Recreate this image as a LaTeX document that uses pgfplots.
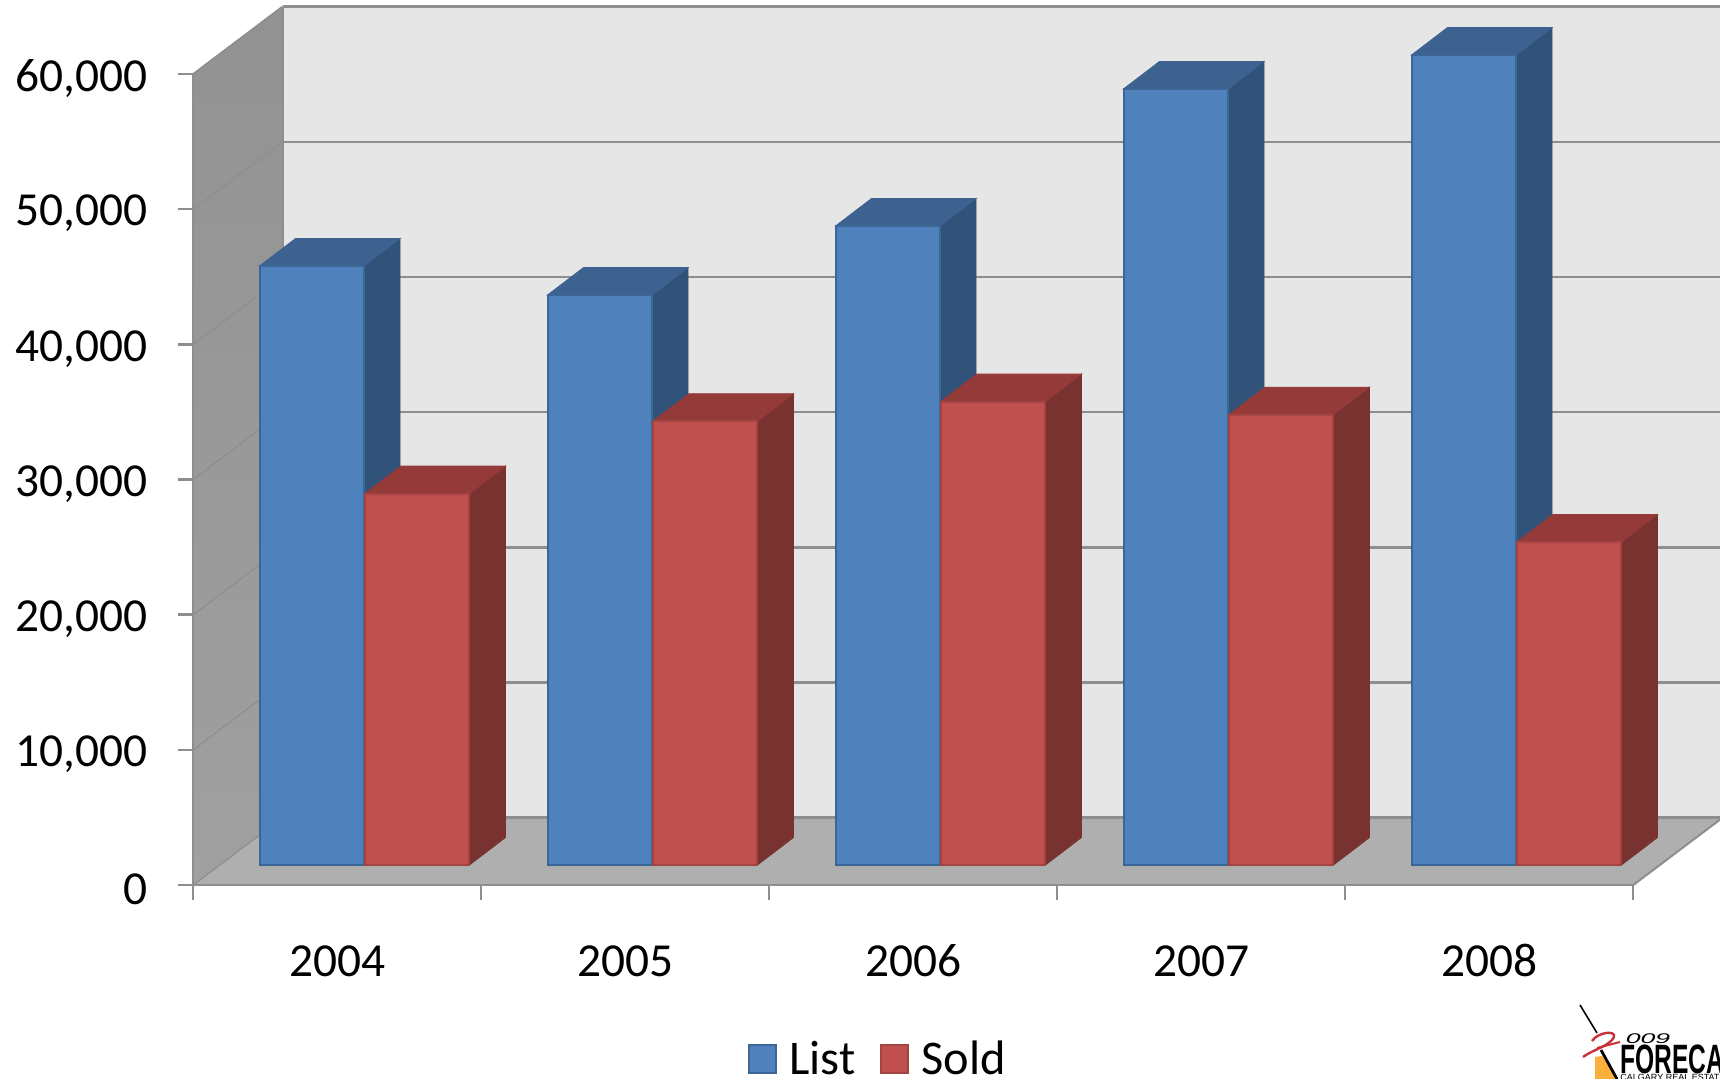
\documentclass[border=0pt]{standalone}
\usepackage{pgfplots}
\pgfplotsset{compat=1.18}
\usepackage{fontspec}
\setmainfont{Carlito}
\newfontfamily\logofont{Liberation Sans}

\definecolor{wallback}{HTML}{E6E6E6}
\definecolor{walltop}{HTML}{929292}
\definecolor{wallbot}{HTML}{A0A0A0}
\definecolor{floorc}{HTML}{AFAFAF}
\definecolor{gridc}{HTML}{8E8E8E}
\definecolor{listf}{HTML}{4F81BD}
\definecolor{listt}{HTML}{3D6290}
\definecolor{lists}{HTML}{315279}
\definecolor{liste}{HTML}{3C6695}
\definecolor{soldf}{HTML}{C0504D}
\definecolor{soldt}{HTML}{943A38}
\definecolor{solds}{HTML}{7A3230}
\definecolor{solde}{HTML}{A34442}
\definecolor{logoy}{HTML}{FBB03B}
\definecolor{logor}{HTML}{C8333A}

% bar front width and depth, in axis units
\def\bw{0.363}
\def\ddx{0.125}
\def\ddy{2034}

% one 3d bar: left x, value, front, top, side, edge
\newcommand{\cube}[6]{%
  \pgfmathsetmacro\xa{#1}%
  \pgfmathsetmacro\xb{#1+\bw}%
  \pgfmathsetmacro\xc{#1+\ddx}%
  \pgfmathsetmacro\xd{#1+\bw+\ddx}%
  \edef\yb{\the\numexpr#2+\ddy\relax}%
  \addplot[fill=#5,draw=#5,line width=0.4pt] coordinates {(\xb,0) (\xd,\ddy) (\xd,\yb) (\xb,#2)} --cycle;
  \addplot[fill=#4,draw=#4,line width=0.4pt] coordinates {(\xa,#2) (\xb,#2) (\xd,\yb) (\xc,\yb)} --cycle;
  \addplot[fill=#3,draw=#6,line width=1pt] coordinates {(\xa,0) (\xb,0) (\xb,#2) (\xa,#2)} --cycle;
}
\newcommand{\listbar}[2]{\cube{#1}{#2}{listf}{listt}{lists}{liste}}
\newcommand{\soldbar}[2]{\cube{#1}{#2}{soldf}{soldt}{solds}{solde}}

\pgfplotsset{chartbox/.style={
  scale only axis,
  width=720pt,
  height=405.5pt,
  xmin=0,xmax=5,
  ymin=0,ymax=60000,
  clip=false,
}}

\begin{document}
\begin{tikzpicture}
\useasboundingbox (-96.65pt,-97pt) rectangle (763.35pt,442.5pt);
\clip (-96.65pt,-97pt) rectangle (763.35pt,442.5pt);

% walls, floor and ticks
\begin{axis}[
  chartbox,
  axis on top,
  axis x line=bottom,
  axis y line=left,
  axis line style={gridc,line width=1.2pt,-},
  every tick/.style={gridc,line width=1.2pt},
  tick align=outside,
  major tick length=7.5pt,
  xtick={0,1,2,3,4,5},
  x tick label as interval,
  xticklabels={2004,2005,2006,2007,2008},
  ytick={0,10000,20000,30000,40000,50000,60000},
  scaled y ticks=false,
  /pgf/number format/assume math mode=true,
  /pgf/number format/1000 sep={,},
  tick label style={font=\fontsize{23.7}{28}\selectfont},
  xticklabel style={text height=16pt,text depth=0pt,yshift=-18.5pt},
  yticklabel style={xshift=-12pt,yshift=-2.2pt},
  legend columns=2,
  legend cell align=left,
  legend style={
    at={(axis cs:2.395,-12900)},anchor=center,
    draw=none,fill=none,
    font=\fontsize{24.2}{28}\selectfont,
    nodes={inner xsep=6.2pt},
    /tikz/every even column/.append style={column sep=6pt},
  },
  legend image code/.code={
    \draw[#1] (0pt,-7pt) rectangle (13.5pt,7pt);
  },
]
\addplot[forget plot,fill=wallback,draw=none] coordinates {(0.31,4980) (5.31,4980) (5.31,64980) (0.31,64980)} --cycle;
\addplot[forget plot,draw=none,shade,top color=walltop,bottom color=wallbot] coordinates {(0,0) (0.31,4980) (0.31,64980) (0,60000)} --cycle;
\addplot[forget plot,fill=floorc,draw=none] coordinates {(0,0) (5,0) (5.31,4980) (0.31,4980)} --cycle;

\addplot[forget plot,gridc,line width=1.2pt] coordinates {(0.31,4980) (5.31,4980)};
\addplot[forget plot,gridc,line width=1.2pt] coordinates {(0.31,14980) (5.31,14980)};
\addplot[forget plot,gridc,line width=1.2pt] coordinates {(0.31,24980) (5.31,24980)};
\addplot[forget plot,gridc,line width=1.2pt] coordinates {(0.31,34980) (5.31,34980)};
\addplot[forget plot,gridc,line width=1.2pt] coordinates {(0.31,44980) (5.31,44980)};
\addplot[forget plot,gridc,line width=1.2pt] coordinates {(0.31,54980) (5.31,54980)};
\addplot[forget plot,gridc,line width=1.2pt] coordinates {(0.31,64980) (5.31,64980)};
\addplot[forget plot,gridc,line width=0.6pt] coordinates {(0,0) (0.31,4980)};
\addplot[forget plot,gridc,line width=0.6pt] coordinates {(0,10000) (0.31,14980)};
\addplot[forget plot,gridc,line width=0.6pt] coordinates {(0,20000) (0.31,24980)};
\addplot[forget plot,gridc,line width=0.6pt] coordinates {(0,30000) (0.31,34980)};
\addplot[forget plot,gridc,line width=0.6pt] coordinates {(0,40000) (0.31,44980)};
\addplot[forget plot,gridc,line width=0.6pt] coordinates {(0,50000) (0.31,54980)};
\addplot[forget plot,gridc,line width=1pt] coordinates {(0,60000) (0.31,64980)};
\addplot[forget plot,gridc,line width=1pt] coordinates {(0.31,4980) (0.31,64980)};
\addplot[forget plot,gridc,line width=1pt] coordinates {(5,0) (5.31,4980)};

\addlegendimage{fill=listf,draw=liste,line width=1pt}
\addlegendentry{List}
\addlegendimage{fill=soldf,draw=solde,line width=1pt}
\addlegendentry{Sold}
\end{axis}

% the bars stand 20 px in from the front edge of the floor
\begin{axis}[chartbox,hide axis,yshift=10pt]
\listbar{0.230}{44314}
\soldbar{0.596}{27476}
\listbar{1.230}{42168}
\soldbar{1.596}{32832}
\listbar{2.230}{47274}
\soldbar{2.596}{34290}
\listbar{3.230}{57417}
\soldbar{3.596}{33313}
\listbar{4.230}{59925}
\soldbar{4.596}{23903}
\end{axis}

% logo in the corner, in reference pixels
\begin{scope}[x=0.5pt,y=-0.5pt,shift={(-96.65pt,442.5pt)}]
\fill[logoy] (1595,1079) -- (1595,1057) -- (1602,1056) -- (1618,1079) -- cycle;
\draw[black,line width=0.8pt] (1580,1005) -- (1597,1033);
\draw[black,line width=1.4pt] (1601,1050) -- (1617,1079);
\draw[logor,line width=1.2pt] (1592,1041) .. controls (1598,1032) and (1616,1030) .. (1614,1037)
  .. controls (1610,1046) and (1592,1050) .. (1583,1057);
\draw[logor,line width=1pt] (1597,1048) -- (1620,1042);
\node[anchor=west,inner sep=0pt,font=\logofont\itshape\fontsize{7}{7}\selectfont,xscale=1.9] at (1625,1039) {009};
\node[anchor=west,inner sep=0pt,font=\logofont\bfseries\fontsize{20.5}{21}\selectfont,xscale=0.6] at (1620,1059) {FORECAST};
\node[anchor=west,inner sep=0pt,font=\logofont\fontsize{4.5}{5}\selectfont] at (1620,1077) {CALGARY REAL ESTATE};
\end{scope}
\end{tikzpicture}
\end{document}
